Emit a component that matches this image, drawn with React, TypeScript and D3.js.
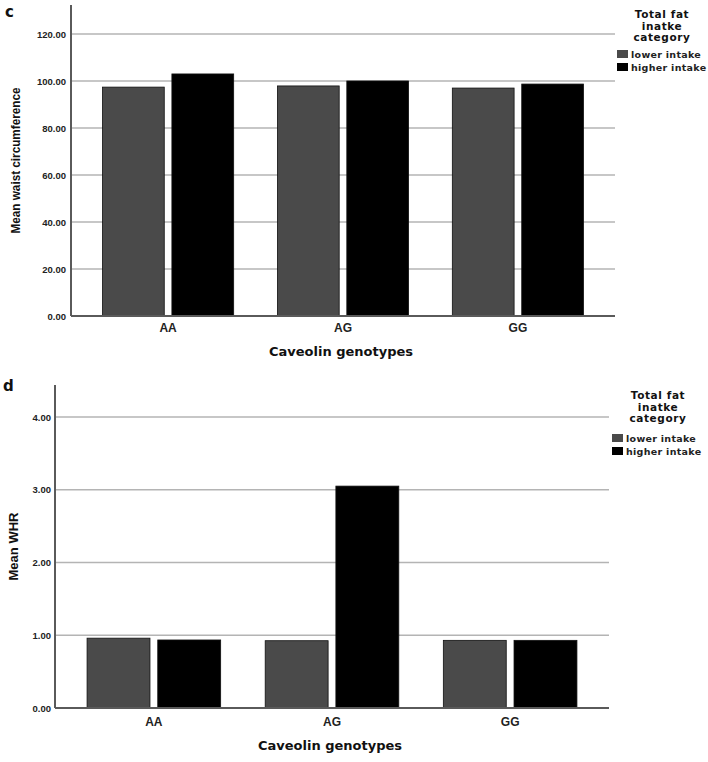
import React from "react";
import * as d3 from "d3";

const categories = ["AA", "AG", "GG"];
const seriesNames = ["lower intake", "higher intake"];
const seriesColors = ["#4a4a4a", "#000000"];
const waistLower = [97.4, 97.9, 97.0];
const waistHigher = [103.0, 100.0, 98.7];
const whrLower = [0.96, 0.925, 0.93];
const whrHigher = [0.935, 3.05, 0.93];
const waistTicks = [0, 20, 40, 60, 80, 100, 120];
const whrTicks = [0, 1, 2, 3, 4];
const legendTitle = ["Total fat", "inatke", "category"];

type PanelProps = {
  letter: string;
  letterY: number;
  x0: number;
  x1: number;
  yBase: number;
  yTop: number;
  axisTop: number;
  domainMax: number;
  ticks: number[];
  lower: number[];
  higher: number[];
  yTitle: string;
  yTitleLen: number;
  yTitleX: number;
  tickRight: number;
  catLabelY: number;
  xTitleY: number;
  legX: number;
  legTitleY: number;
  swX: number;
  swY: number;
};

const boldFont = "'DejaVu Sans', sans-serif";
const tickFont = "'Liberation Sans', Arial, sans-serif";

function Panel(p: PanelProps) {
  const y = d3.scaleLinear().domain([0, p.domainMax]).range([p.yBase, p.yTop]);
  const x = d3
    .scaleBand<string>()
    .domain(categories)
    .range([p.x0, p.x1])
    .paddingInner(0.25)
    .paddingOuter(0.18);
  const xi = d3
    .scaleBand<string>()
    .domain(seriesNames)
    .range([0, x.bandwidth()])
    .paddingInner(0.11);
  const rows = categories.map((c, i) => ({ c, vals: [p.lower[i], p.higher[i]] }));
  const yMid = (p.yBase + p.axisTop) / 2;
  return (
    <g>
      <text x={p.letter === "c" ? 5 : 3} y={p.letterY} fontFamily={boldFont} fontWeight="bold" fontSize={15} fill="#111">
        {p.letter}
      </text>
      {p.ticks.slice(1).map((t) => (
        <line key={t} x1={p.x0} x2={p.x1} y1={y(t)} y2={y(t)} stroke="#b4b4b4" strokeWidth={1.5} />
      ))}
      {rows.map((r) =>
        r.vals.map((v, j) => (
          <rect
            key={r.c + j}
            x={(x(r.c) as number) + (xi(seriesNames[j]) as number)}
            y={y(v)}
            width={xi.bandwidth()}
            height={p.yBase - y(v)}
            fill={seriesColors[j]}
            stroke="#111"
            strokeWidth={0.8}
          />
        ))
      )}
      <line x1={p.x0} x2={p.x0} y1={p.axisTop} y2={p.yBase} stroke="#5a5a5a" strokeWidth={2} />
      <line x1={p.x0} x2={p.x1} y1={p.yBase} y2={p.yBase} stroke="#5a5a5a" strokeWidth={2} />
      {p.ticks.map((t) => (
        <text
          key={t}
          x={p.tickRight}
          y={y(t) + 3.5}
          textAnchor="end"
          fontFamily={tickFont}
          fontWeight="bold"
          fontSize={9.5}
          fill="#222"
        >
          {d3.format(".2f")(t)}
        </text>
      ))}
      {categories.map((c) => (
        <text
          key={c}
          x={(x(c) as number) + x.bandwidth() / 2}
          y={p.catLabelY}
          textAnchor="middle"
          fontFamily={tickFont}
          fontWeight="bold"
          fontSize={12}
          fill="#222"
        >
          {c}
        </text>
      ))}
      <text
        x={(p.x0 + p.x1) / 2 - 2}
        y={p.xTitleY}
        textAnchor="middle"
        fontFamily={boldFont}
        fontWeight="bold"
        fontSize={13}
        fill="#111"
      >
        Caveolin genotypes
      </text>
      <text
        transform={`translate(${p.yTitleX},${yMid}) rotate(-90)`}
        textAnchor="middle"
        fontFamily={tickFont}
        fontWeight="bold"
        fontSize={12}
        textLength={p.yTitleLen}
        lengthAdjust="spacingAndGlyphs"
        fill="#111"
      >
        {p.yTitle}
      </text>
      {legendTitle.map((t, i) => (
        <text
          key={t}
          x={p.legX}
          y={p.legTitleY + i * 11.5}
          textAnchor="middle"
          fontFamily={boldFont}
          fontWeight="bold"
          fontSize={10.5}
          letterSpacing={0.6}
          fill="#111"
        >
          {t}
        </text>
      ))}
      {seriesNames.map((s, i) => (
        <g key={s}>
          <rect x={p.swX} y={p.swY + i * 13} width={11} height={8} fill={seriesColors[i]} />
          <text
            x={p.swX + 14}
            y={p.swY + i * 13 + 8}
            fontFamily={boldFont}
            fontWeight="bold"
            fontSize={9.5}
            letterSpacing={0.3}
            fill="#222"
          >
            {s}
          </text>
        </g>
      ))}
    </g>
  );
}

export default function App() {
  return (
    <svg
      width={708}
      height={762}
      style={{ position: "absolute", left: 0, top: 0, background: "#fff" }}
    >
      <rect width={708} height={762} fill="#fff" />
      <Panel
        letter="c"
        letterY={17}
        x0={71}
        x1={615}
        yBase={316}
        yTop={34}
        axisTop={5}
        domainMax={120}
        ticks={waistTicks}
        lower={waistLower}
        higher={waistHigher}
        yTitle="Mean waist circumference"
        yTitleLen={146}
        yTitleX={20}
        tickRight={66}
        catLabelY={332}
        xTitleY={356}
        legX={662}
        legTitleY={18}
        swX={617}
        swY={50}
      />
      <Panel
        letter="d"
        letterY={391}
        x0={55}
        x1={609}
        yBase={708}
        yTop={417}
        axisTop={385}
        domainMax={4}
        ticks={whrTicks}
        lower={whrLower}
        higher={whrHigher}
        yTitle="Mean WHR"
        yTitleLen={68}
        yTitleX={18}
        tickRight={51}
        catLabelY={726}
        xTitleY={750}
        legX={658}
        legTitleY={399}
        swX={612}
        swY={434}
      />
    </svg>
  );
}
